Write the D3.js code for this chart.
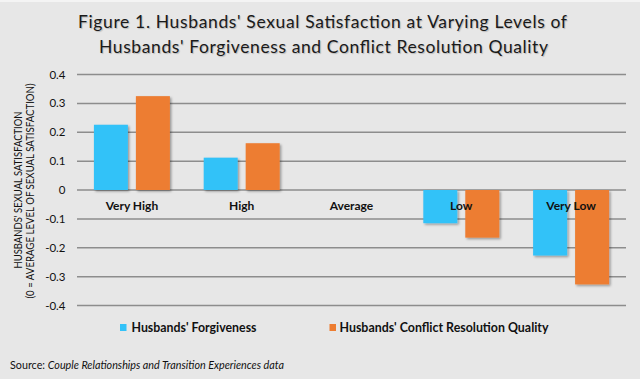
<!DOCTYPE html>
<html><head><meta charset="utf-8">
<script src="https://cdn.jsdelivr.net/npm/d3@7"></script>
<style>html,body{margin:0;padding:0;background:#e7e7e7;}svg{display:block;}</style>
</head><body>
<svg id="c" width="640" height="379"></svg>
<script>
const categories = ["Very High", "High", "Average", "Low", "Very Low"];
const seriesNames = ["Husbands' Forgiveness", "Husbands' Conflict Resolution Quality"];
const forgiveness = [0.226, 0.112, 0, -0.115, -0.227];
const conflict = [0.325, 0.162, 0, -0.165, -0.327];
const yTicks = [0.4, 0.3, 0.2, 0.1, 0, -0.1, -0.2, -0.3, -0.4];
const tickLabels = ["0.4", "0.3", "0.2", "0.1", "0", "-0.1", "-0.2", "-0.3", "-0.4"];
const colors = ["#33C2F8", "#ED7D31"];
const titleLines = ["Figure 1. Husbands' Sexual Satisfaction at Varying Levels of", "Husbands' Forgiveness and Conflict Resolution Quality"];
const yTitle = ["HUSBANDS' SEXUAL SATISFACTION", "(0 = AVERAGE LEVEL OF SEXUAL SATISFACTION)"];

const font = "Lato, 'Open Sans', sans-serif";
const svg = d3.select("#c");
svg.append("rect").attr("width", 640).attr("height", 379).attr("fill", "#e7e7e7");
svg.append("rect").attr("width", 640).attr("height", 2).attr("fill", "#f4f4f4");

const defs = svg.append("defs");
const f = defs.append("filter").attr("id", "sh").attr("x", "-20%").attr("y", "-20%").attr("width", "150%").attr("height", "150%");
f.append("feDropShadow").attr("dx", 1.5).attr("dy", 1.5).attr("stdDeviation", 1).attr("flood-color", "#000").attr("flood-opacity", 0.35);

const y = d3.scaleLinear().domain([-0.4, 0.4]).range([305.5, 74.5]);
const x0 = d3.scaleBand().domain(categories).range([77, 626]).paddingInner(0.308).paddingOuter(0.154);
const x1 = d3.scaleBand().domain([0, 1]).range([0, x0.bandwidth()]).paddingInner(0.19).paddingOuter(0);

// gridlines
svg.append("g").selectAll("line").data(yTicks).join("line")
  .attr("x1", 77).attr("x2", 626)
  .attr("y1", d => y(d)).attr("y2", d => y(d))
  .attr("stroke", "#8d8d8d").attr("stroke-width", 1.5);

// tick labels
svg.append("g").selectAll("text").data(yTicks).join("text")
  .attr("x", 65.5).attr("y", d => y(d)).attr("dy", "0.35em")
  .attr("text-anchor", "end").attr("font-family", font).attr("font-size", 11.5).attr("fill", "#111")
  .text((d, i) => tickLabels[i]);

// bars
const series = [forgiveness, conflict];
const gBars = svg.append("g").attr("filter", "url(#sh)");
series.forEach((vals, s) => {
  gBars.selectAll(null).data(vals.map((v, i) => ({v, c: categories[i]})).filter(d => d.v !== 0)).join("rect")
    .attr("x", d => x0(d.c) + x1(s))
    .attr("width", x1.bandwidth())
    .attr("y", d => y(Math.max(0, d.v)))
    .attr("height", d => Math.abs(y(d.v) - y(0)))
    .attr("fill", colors[s]);
});

// category labels
svg.append("g").selectAll("text").data(categories).join("text")
  .attr("x", d => x0(d) + x0.bandwidth() / 2).attr("y", 209.5)
  .attr("text-anchor", "middle").attr("font-family", font).attr("font-weight", "bold")
  .attr("font-size", 12).attr("fill", "#111").text(d => d);

// title
const tl = [[78, 567, 28], [99, 548, 53]];
svg.append("g").selectAll("text").data(titleLines).join("text")
  .attr("x", (d, i) => tl[i][0]).attr("y", (d, i) => tl[i][2])
  .attr("textLength", (d, i) => tl[i][1] - tl[i][0]).attr("lengthAdjust", "spacing")
  .attr("font-family", font).attr("font-size", 17.5).attr("fill", "#1a1a1a")
  .style("text-shadow", "1px 1px 1px rgba(0,0,0,0.2)")
  .text(d => d);

// y axis title
const yt = [[21.5, 111.5, 268.5], [34, 83.5, 298.5]];
svg.append("g").selectAll("text").data(yTitle).join("text")
  .attr("transform", (d, i) => `translate(${yt[i][0]},${(yt[i][1] + yt[i][2]) / 2}) rotate(-90)`)
  .attr("text-anchor", "middle")
  .attr("textLength", (d, i) => yt[i][2] - yt[i][1]).attr("lengthAdjust", "spacingAndGlyphs")
  .attr("font-family", font).attr("font-size", 11).attr("fill", "#111")
  .text(d => d);

// legend
const lg = [[120, 131.5, 256.5], [329.5, 339.5, 548.5]];
seriesNames.forEach((n, i) => {
  svg.append("rect").attr("x", lg[i][0]).attr("y", 324).attr("width", 6.5).attr("height", 7).attr("fill", colors[i]);
  svg.append("text").attr("x", lg[i][1]).attr("y", 331.5)
    .attr("textLength", lg[i][2] - lg[i][1]).attr("lengthAdjust", "spacingAndGlyphs")
    .attr("font-family", font).attr("font-weight", "bold").attr("font-size", 12.5).attr("fill", "#111")
    .text(n);
});

// source
const src = svg.append("text").attr("x", 10).attr("y", 368.5)
  .attr("textLength", 274).attr("lengthAdjust", "spacingAndGlyphs")
  .attr("font-family", font).attr("font-size", 11.5).attr("fill", "#111");
src.append("tspan").text("Source: ");
src.append("tspan").attr("font-style", "italic").text("Couple Relationships and Transition Experiences data");
</script>
</body></html>
